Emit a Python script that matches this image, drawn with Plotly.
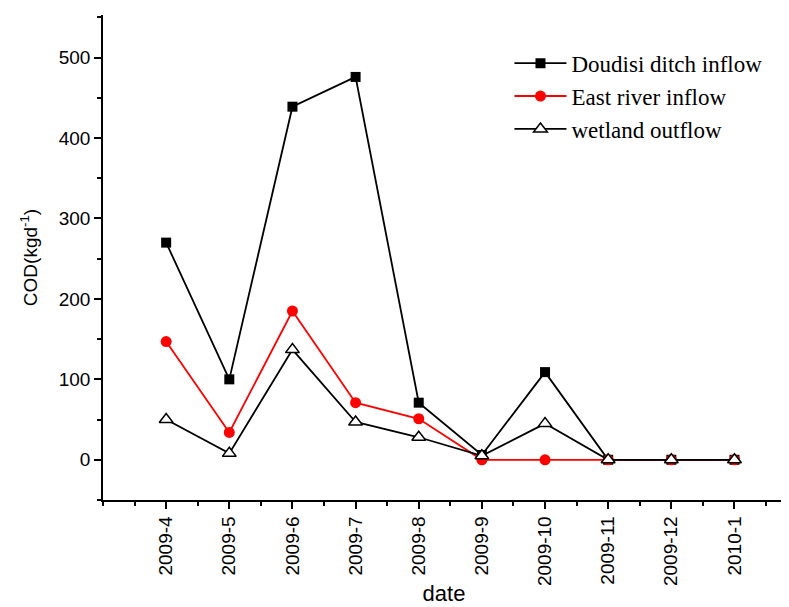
import plotly.graph_objects as go

dates = ["2009-4", "2009-5", "2009-6", "2009-7", "2009-8", "2009-9", "2009-10", "2009-11", "2009-12", "2010-1"]
doudisi = [270, 100, 439, 476, 71, 6, 109, 0, 0, 0]
east_river = [147, 34, 185, 71, 51, 0, 0, 0, 0, 0]
wetland = [50, 8, 137, 47, 28, 5, 45, 0, 0, 0]

x = list(range(len(dates)))

fig = go.Figure()
fig.add_trace(go.Scatter(
    x=x, y=doudisi, mode="lines+markers", name="Doudisi ditch inflow",
    line=dict(color="black", width=1.8),
    marker=dict(symbol="square", size=10, color="black")))
fig.add_trace(go.Scatter(
    x=x, y=east_river, mode="lines+markers", name="East river inflow",
    line=dict(color="red", width=1.8),
    marker=dict(symbol="circle", size=11, color="red")))
fig.add_trace(go.Scatter(
    x=x, y=wetland, mode="lines+markers", name="wetland outflow",
    line=dict(color="black", width=1.8),
    marker=dict(symbol="triangle-up", size=12, color="white",
                line=dict(color="black", width=1.5))))

fig.update_layout(
    width=789, height=607,
    margin=dict(l=95, r=12, t=7, b=115),
    plot_bgcolor="white", paper_bgcolor="white",
    font=dict(family="Liberation Sans, Arial", size=19, color="black"),
    legend=dict(x=0.596, y=0.945, xanchor="left", yanchor="top",
                font=dict(family="Liberation Serif, Times New Roman", size=23, color="black"),
                bgcolor="rgba(0,0,0,0)", tracegroupgap=0, itemwidth=52),
    showlegend=True,
)
fig.update_xaxes(
    range=[-1, 9.8], tickmode="array", tickvals=x, ticktext=dates,
    tickangle=-90, ticks="outside", ticklen=7, tickwidth=1.5, tickcolor="black",
    showline=True, linecolor="black", linewidth=1.5, showgrid=False, zeroline=False,
    minor=dict(tickmode="linear", tick0=-1, dtick=0.5, ticks="outside", ticklen=4,
               tickwidth=1.5, tickcolor="black", showgrid=False),
    title=dict(text="date", font=dict(size=22), standoff=1),
    tickfont=dict(size=19),
)
fig.update_yaxes(
    range=[-50, 553], tickmode="array", tickvals=[0, 100, 200, 300, 400, 500],
    ticks="outside", ticklen=7, tickwidth=1.5, tickcolor="black",
    showline=True, linecolor="black", linewidth=1.5, showgrid=False, zeroline=False,
    minor=dict(tickmode="linear", tick0=0, dtick=50, ticks="outside", ticklen=4,
               tickwidth=1.5, tickcolor="black", showgrid=False),
    title=dict(text="COD(kgd<sup>-1</sup>)", font=dict(size=19), standoff=16),
    tickfont=dict(size=19),
)

fig.write_html("out.html")
